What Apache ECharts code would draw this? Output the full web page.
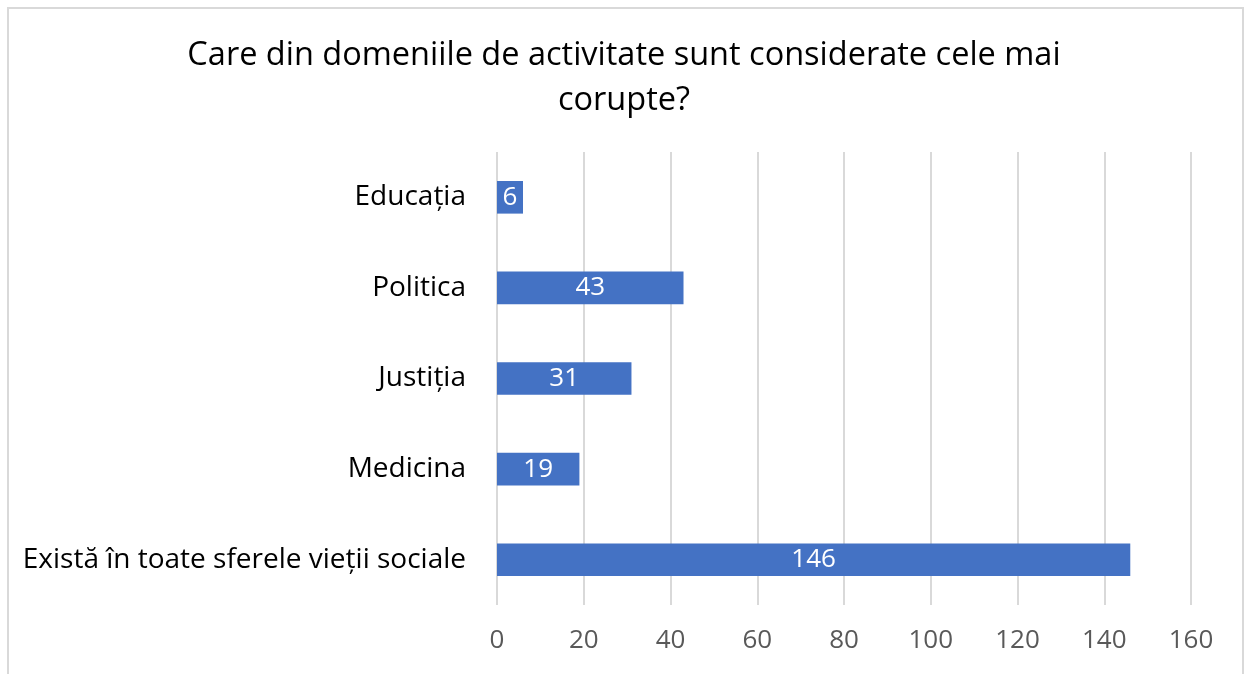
<!DOCTYPE html>
<html>
<head>
<meta charset="utf-8">
<script src="https://cdn.jsdelivr.net/npm/echarts@6/dist/echarts.min.js"></script>
<style>
  html, body { margin: 0; padding: 0; background: #fff; }
  #chart { width: 1248px; height: 674px; }
</style>
</head>
<body>
<div id="chart"></div>
<script>
// categories from bottom to top (echarts draws the first one at the bottom)
const categories = [
  "Există în toate sferele vieții sociale",
  "Medicina",
  "Justiția",
  "Politica",
  "Educația"
];
const values = [146, 19, 31, 43, 6];
const xTicks = [0, 20, 40, 60, 80, 100, 120, 140, 160];

const fontFamily = "'Open Sans', 'Noto Sans', sans-serif";

const myChart = echarts.init(document.getElementById("chart"));

const option = {
  backgroundColor: "#fff",
  animation: false,
  // chart frame, its bottom edge lies below the picture
  graphic: [
    {
      type: "rect",
      shape: { x: 8, y: 8, width: 1235, height: 720 },
      style: { fill: "none", stroke: "#d9d9d9", lineWidth: 2 },
      silent: true
    }
  ],
  title: {
    text: "Care din domeniile de activitate sunt considerate cele mai\ncorupte?",
    left: "center",
    top: 28,
    textStyle: {
      color: "#000",
      fontSize: 32.5,
      fontWeight: "normal",
      fontFamily: fontFamily,
      lineHeight: 45
    }
  },
  grid: {
    left: 497,
    right: 57,
    top: 152,
    bottom: 69
  },
  xAxis: {
    type: "value",
    min: xTicks[0],
    max: xTicks[xTicks.length - 1],
    interval: 20,
    axisLine: { show: false },
    axisTick: { show: false },
    axisLabel: {
      color: "#595959",
      fontSize: 26,
      fontFamily: fontFamily,
      margin: 23
    },
    splitLine: {
      lineStyle: { color: "#d9d9d9", width: 2 }
    }
  },
  yAxis: {
    type: "category",
    data: categories,
    axisLine: { show: false },
    axisTick: { show: false },
    axisLabel: {
      color: "#000",
      fontSize: 28,
      fontFamily: fontFamily,
      margin: 31
    }
  },
  series: [
    {
      name: "Răspunsuri",
      type: "bar",
      data: values,
      barCategoryGap: "64%",
      itemStyle: { color: "#4472c4" },
      label: {
        show: true,
        position: "inside",
        color: "#fff",
        fontSize: 26,
        fontFamily: fontFamily
      }
    }
  ]
};

myChart.setOption(option);
</script>
</body>
</html>
